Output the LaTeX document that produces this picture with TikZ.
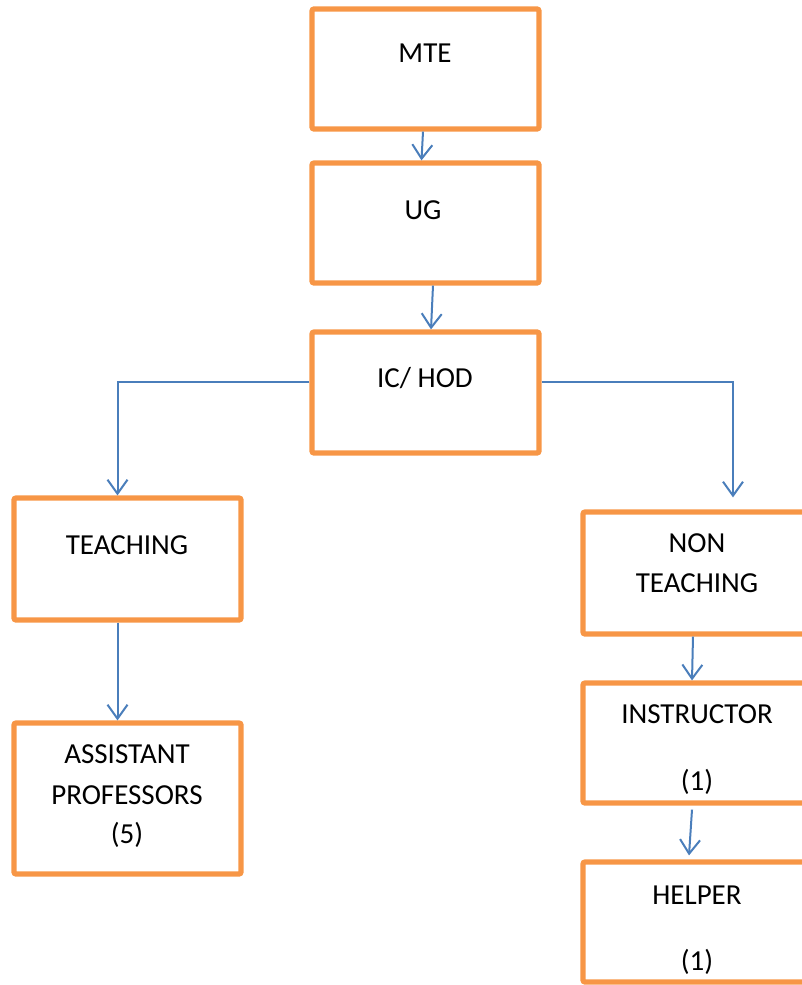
\documentclass[tikz,border=0pt]{standalone}
\usepackage{fontspec}
\setmainfont{Carlito}
\usetikzlibrary{arrows.meta,calc}
\definecolor{boxorange}{HTML}{F79646}
\definecolor{lineblue}{HTML}{4A7EBB}
\begin{document}
\begin{tikzpicture}[x=0.5pt,y=-0.5pt,
  box/.style={draw=boxorange,line width=2.6pt,rectangle,rounded corners=1pt,minimum width=113.5pt,inner sep=0pt},
  txt/.style={inner sep=0pt,font=\fontsize{14.5pt}{17pt}\selectfont,text=black},
  arr/.style={draw=lineblue,line width=1pt,-{Straight Barb[length=7pt,width=10pt,line width=1pt]}},
  conn/.style={draw=lineblue,line width=1pt}]
\useasboundingbox (0,0) rectangle (802,985);
\clip (0,0) rectangle (802,985);
% boxes
\node[box,minimum height=60pt] (mte) at (425.5,69) {};
\node[box,minimum height=60pt] (ug) at (425.5,223) {};
\node[box,minimum height=60.5pt] (ic) at (425.5,392.5) {};
\node[box,minimum height=61pt] (teach) at (127.5,559) {};
\node[box,minimum height=75.5pt] (assist) at (127.5,798.5) {};
\node[box,minimum height=61pt] (non) at (696.5,573) {};
\node[box,minimum height=60pt] (instr) at (696.5,743) {};
\node[box,minimum height=60pt] (helper) at (696.5,922) {};
% texts
\node[txt] (tmte) at (425,53) {MTE};
\node[txt] (tug) at (423,210) {UG};
\node[txt] (tic) at (425,378) {IC/ HOD};
\node[txt] (tteach) at (127,545) {TEACHING};
\node[txt] (tassist1) at (127,754) {ASSISTANT};
\node[txt] (tassist2) at (127,795) {PROFESSORS};
\node[txt] (tassist3) at (127,835) {(5)};
\node[txt] (tnon1) at (697,543) {NON};
\node[txt] (tnon2) at (697,583) {TEACHING};
\node[txt] (tinstr1) at (697,714) {INSTRUCTOR};
\node[txt] (tinstr2) at (697,782) {(1)};
\node[txt] (thelp1) at (697,895) {HELPER};
\node[txt] (thelp2) at (697,962) {(1)};
% connectors
\draw[arr] ($(mte.south)+(-2.5,0)$) -- ($(ug.north)+(-4,0)$);
\draw[arr] ($(ug.south)+(7.5,0)$) -- ($(ic.north)+(5.5,0)$);
\draw[arr] ($(ic.west)+(0,-10.5)$) -| ($(teach.north)+(-10,0)$);
\draw[arr] ($(ic.east)+(0,-10.5)$) -| ($(non.north)+(36.5,-12)$);
\draw[arr] ($(teach.south)+(-10,0)$) -- ($(assist.north)+(-10,0)$);
\draw[arr] ($(non.south)+(-3.5,0)$) -- ($(instr.north)+(-4.5,0)$);
\draw[arr] ($(instr.south)+(-4.5,4)$) -- ($(helper.north)+(-7.5,-4)$);
\end{tikzpicture}
\end{document}
